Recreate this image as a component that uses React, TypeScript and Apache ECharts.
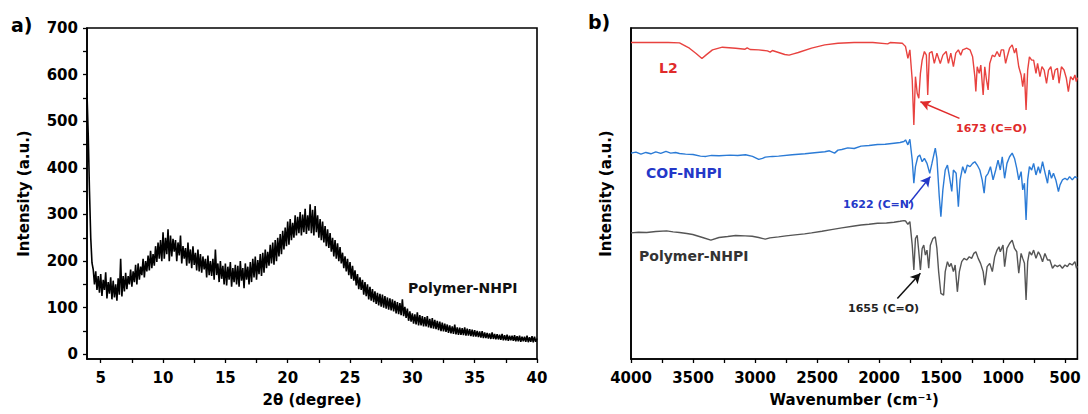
import React, { useEffect, useRef } from "react";
import * as echarts from "echarts";

// ---------- Panel a: XRD (2θ from 3.9 to 40.0, step 0.1) ----------
const xrdStart = 3.9;
const xrdStep = 0.1;
const xrdValues: number[] = [
  560,
  470, 350, 250, 196, 182, 150, 178, 138, 168, 132,
  172, 125, 160, 138, 176, 120, 155, 130, 165, 118,
  158, 122, 150, 115, 163, 128, 205, 124, 168, 135,
  175, 140, 168, 150, 182, 145, 178, 155, 192, 150,
  195, 160, 188, 170, 205, 165, 200, 178, 212, 180,
  222, 185, 215, 190, 232, 198, 240, 205, 245, 200,
  262, 205, 250, 215, 268, 200, 255, 210, 248, 220,
  245, 200, 240, 212, 255, 195, 232, 205, 228, 190,
  240, 195, 225, 185, 232, 192, 218, 180, 225, 178,
  215, 175, 210, 182, 205, 165, 212, 170, 200, 168,
  205, 160, 225, 170, 195, 155, 200, 162, 190, 150,
  195, 148, 188, 160, 198, 145, 185, 155, 192, 150,
  190, 145, 200, 158, 185, 142, 195, 160, 188, 150,
  198, 155, 205, 165, 210, 160, 202, 172, 215, 168,
  218, 175, 225, 185, 220, 190, 235, 195, 240, 192,
  245, 200, 250, 210, 258, 215, 265, 225, 272, 232,
  285, 235, 290, 245, 282, 250, 298, 255, 295, 260,
  305, 255, 300, 262, 312, 258, 298, 265, 322, 260,
  310, 255, 318, 262, 298, 250, 290, 245, 285, 240,
  275, 232, 268, 228, 260, 220, 250, 210, 245, 205,
  238, 200, 230, 195, 218, 185, 210, 178, 205, 170,
  198, 162, 190, 158, 180, 148, 172, 140, 165, 138,
  160, 128, 155, 125, 150, 118, 145, 115, 140, 112,
  135, 108, 132, 105, 130, 102, 128, 100, 125, 98,
  122, 96, 120, 94, 118, 92, 115, 88, 112, 86,
  110, 84, 118, 82, 102, 78, 98, 72, 92, 70,
  88, 66, 86, 64, 90, 62, 84, 62, 82, 60,
  80, 60, 82, 58, 76, 56, 78, 55, 74, 54,
  72, 52, 70, 50, 68, 49, 66, 48, 64, 46,
  62, 45, 60, 44, 64, 43, 58, 42, 57, 42,
  56, 41, 58, 40, 55, 40, 54, 39, 53, 38,
  52, 38, 50, 37, 49, 36, 50, 35, 47, 35,
  46, 34, 45, 33, 47, 33, 44, 32, 43, 32,
  42, 31, 44, 30, 41, 30, 42, 29, 40, 30,
  40, 29, 41, 28, 39, 28, 40, 27, 38, 28,
  38, 27, 40, 26, 37, 27, 39, 26, 38, 27,
  34,
];
const xrdXTicks = [5, 7.5, 10, 12.5, 15, 17.5, 20, 22.5, 25, 27.5, 30, 32.5, 35, 37.5, 40];
const xrdXLabels = [5, 10, 15, 20, 25, 30, 35, 40];
const xrdYTicks = [0, 50, 100, 150, 200, 250, 300, 350, 400, 450, 500, 550, 600, 650, 700];
const xrdYLabels = [0, 100, 200, 300, 400, 500, 600, 700];

// ---------- Panel b: FTIR (wavenumber, arbitrary intensity) ----------
const l2Points: [number, number][] = [
  [4000, 95.6], [3850, 95.6], [3700, 95.6], [3609, 95.5], [3529, 93.9], [3475, 92.3], [3428, 90.8],
  [3396, 91.8], [3343, 93.4], [3263, 94.2], [3156, 93.9], [3080, 93.6], [3063, 94.0], [3040, 93.5],
  [2970, 93.4], [2900, 93.1], [2877, 92.7], [2860, 93.2], [2810, 92.6], [2760, 92.0], [2725, 91.8],
  [2690, 92.2], [2651, 92.6], [2544, 93.9], [2437, 94.9], [2331, 95.4], [2200, 95.6], [2050, 95.6],
  [1930, 95.2], [1910, 95.6], [1812, 95.4], [1799, 94.9], [1786, 94.4], [1767, 90.8], [1751, 93.4],
  [1732, 84.3], [1719, 70.7], [1706, 85.3], [1692, 80.3], [1679, 78.8], [1666, 86.3], [1652, 90.3],
  [1634, 92.9], [1618, 91.8], [1607, 79.8], [1594, 92.4], [1573, 92.9], [1554, 89.3], [1533, 92.4],
  [1506, 89.3], [1485, 91.8], [1458, 92.9], [1440, 89.3], [1421, 92.4], [1400, 88.3], [1381, 92.4],
  [1360, 93.4], [1341, 91.8], [1325, 93.4], [1293, 93.9], [1266, 93.4], [1245, 91.3], [1227, 85.3],
  [1219, 80.8], [1208, 88.3], [1192, 86.3], [1179, 88.8], [1160, 79.8], [1147, 88.3], [1133, 84.3],
  [1120, 81.3], [1107, 89.3], [1086, 91.8], [1067, 91.3], [1048, 92.9], [1027, 91.3], [1014, 93.4],
  [995, 93.4], [979, 89.3], [966, 91.3], [947, 93.9], [926, 94.9], [907, 92.4], [894, 93.9],
  [873, 88.3], [854, 85.8], [841, 82.3], [827, 86.3], [814, 75.2], [801, 87.3], [787, 91.3],
  [769, 90.3], [753, 90.3], [734, 86.3], [721, 89.3], [702, 85.3], [686, 88.3], [668, 87.3],
  [649, 83.3], [633, 87.3], [614, 88.3], [596, 84.3], [580, 87.3], [561, 87.8], [548, 83.3],
  [529, 88.3], [508, 87.3], [489, 84.8], [473, 80.8], [455, 85.3], [436, 84.3], [420, 85.8],
  [409, 83.8], [400, 85.0],
];
const cofPoints: [number, number][] = [
  [4000, 62.2], [3960, 62.5], [3920, 61.9], [3880, 62.4], [3840, 62.0], [3800, 62.6], [3760, 62.1],
  [3718, 62.7], [3680, 62.2], [3640, 62.4], [3609, 62.1], [3560, 61.9], [3500, 61.8], [3440, 61.3],
  [3396, 61.2], [3350, 61.5], [3290, 61.4], [3200, 61.6], [3140, 61.5], [3076, 61.7], [3020, 61.2],
  [2970, 60.3], [2940, 60.6], [2917, 61.0], [2860, 61.2], [2810, 61.3], [2700, 61.7], [2597, 62.0],
  [2520, 62.3], [2437, 62.6], [2400, 62.9], [2358, 62.2], [2331, 63.1], [2300, 63.3], [2252, 63.8],
  [2200, 63.6], [2145, 64.3], [2080, 64.5], [2012, 64.8], [1950, 64.9], [1879, 65.2], [1830, 65.4],
  [1799, 65.7], [1786, 66.2], [1767, 64.7], [1751, 66.4], [1732, 60.1], [1719, 53.1], [1706, 58.1],
  [1687, 61.1], [1671, 61.6], [1652, 59.6], [1634, 60.6], [1613, 59.1], [1591, 56.1], [1573, 59.1],
  [1546, 63.7], [1533, 60.6], [1514, 49.1], [1501, 43.0], [1485, 51.1], [1466, 57.1], [1448, 58.6],
  [1432, 55.1], [1413, 50.6], [1400, 57.1], [1378, 56.1], [1360, 46.0], [1346, 54.1], [1325, 58.1],
  [1306, 56.1], [1288, 58.6], [1266, 58.1], [1245, 59.1], [1227, 59.6], [1208, 58.6], [1187, 57.1],
  [1168, 54.1], [1152, 50.1], [1139, 55.1], [1120, 56.1], [1101, 58.1], [1080, 54.1], [1059, 57.1],
  [1040, 60.1], [1022, 57.1], [1006, 61.1], [987, 54.6], [968, 59.1], [947, 61.1], [926, 62.2],
  [907, 60.6], [889, 57.6], [873, 54.1], [854, 56.6], [841, 51.1], [827, 53.1], [814, 42.0],
  [801, 54.1], [787, 58.1], [769, 57.1], [753, 59.1], [734, 55.6], [715, 58.1], [700, 56.1],
  [681, 59.6], [660, 56.1], [641, 53.1], [628, 57.1], [609, 54.6], [593, 56.1], [574, 54.1],
  [553, 50.6], [540, 52.6], [521, 54.1], [500, 54.6], [481, 54.1], [463, 55.1], [441, 54.1],
  [420, 55.1], [401, 54.6],
];
const polyPoints: [number, number][] = [
  [4000, 38.1], [3940, 38.3], [3873, 38.2], [3800, 38.5], [3713, 38.7], [3660, 38.4], [3609, 38.2],
  [3550, 37.9], [3502, 37.6], [3423, 36.7], [3356, 35.9], [3290, 36.7], [3220, 37.0], [3156, 37.3],
  [3080, 37.2], [3023, 37.1], [2970, 36.7], [2917, 36.2], [2880, 36.6], [2810, 36.9], [2750, 37.2],
  [2677, 37.5], [2600, 37.8], [2544, 38.1], [2460, 38.6], [2384, 39.1], [2300, 39.6], [2200, 40.2],
  [2145, 40.5], [2080, 40.7], [2012, 41.0], [1940, 41.1], [1879, 41.3], [1830, 41.6], [1799, 41.8],
  [1786, 41.7], [1767, 40.7], [1751, 41.5], [1732, 34.4], [1719, 26.9], [1706, 36.4], [1692, 37.4],
  [1679, 32.4], [1666, 26.9], [1652, 33.4], [1639, 34.4], [1626, 31.4], [1613, 32.9], [1599, 27.4],
  [1586, 34.4], [1565, 36.4], [1546, 36.9], [1533, 33.4], [1519, 26.4], [1501, 19.8], [1479, 19.3],
  [1466, 26.4], [1448, 29.4], [1432, 27.9], [1418, 28.9], [1400, 26.4], [1386, 28.4], [1368, 20.3],
  [1352, 26.4], [1333, 29.4], [1314, 30.4], [1293, 29.9], [1272, 30.9], [1253, 30.4], [1235, 31.9],
  [1219, 32.4], [1200, 30.4], [1181, 28.9], [1160, 26.4], [1147, 22.3], [1128, 27.9], [1107, 28.9],
  [1086, 26.4], [1067, 30.9], [1048, 32.9], [1032, 33.9], [1022, 32.4], [1000, 34.4], [987, 27.9],
  [968, 33.4], [947, 34.9], [926, 35.9], [907, 33.4], [889, 32.4], [873, 25.9], [854, 31.9],
  [841, 30.4], [827, 28.9], [814, 17.8], [801, 29.4], [787, 32.4], [769, 31.4], [753, 32.9],
  [734, 30.4], [715, 32.4], [700, 31.4], [681, 29.4], [662, 31.9], [641, 29.9], [622, 29.9],
  [601, 27.4], [582, 28.4], [561, 27.9], [542, 28.4], [521, 27.4], [500, 28.4], [481, 27.9],
  [463, 28.9], [441, 28.4], [420, 29.4], [407, 27.4], [400, 28.0],
];
const ftirXTicks = [500, 750, 1000, 1250, 1500, 1750, 2000, 2250, 2500, 2750, 3000, 3250, 3500, 3750, 4000];
const ftirXLabels = [500, 1000, 1500, 2000, 2500, 3000, 3500, 4000];

// arrows: [tail, tip] in data coordinates
const arrowL2: [number, number][] = [[1351, 72.7], [1666, 77.7]];
const arrowCof: [number, number][] = [[1759, 47.0], [1586, 55.1]];
const arrowPoly: [number, number][] = [[1852, 18.3], [1666, 25.9]];

const FONT = "DejaVu Sans";
const RED = "#e8423f";
const RED_TXT = "#e02b2b";
const BLUE = "#2b7bd6";
const BLUE_TXT = "#2438c8";
const GRAY = "#555555";

export default function App() {
  const ref = useRef<HTMLDivElement>(null);
  useEffect(() => {
    document.body.style.margin = "0";
    const chart = echarts.init(ref.current!, null, { renderer: "svg" });
    const xrdData = xrdValues.map((v, i) => [Number((xrdStart + i * xrdStep).toFixed(2)), v]);

    const axisLine = { show: true, onZero: false, lineStyle: { color: "#000", width: 1.6 } };
    const labelStyle = {
      color: "#000",
      fontFamily: FONT,
      fontWeight: "bold" as const,
      fontSize: 15,
      formatter: (v: number) => String(v),
    };
    const nameStyle = { color: "#000", fontFamily: FONT, fontWeight: "bold" as const, fontSize: 15 };

    const arrowLine = (pts: [number, number][], color: string) => ({
      silent: true,
      symbol: ["none", "arrow"],
      symbolSize: [8, 10],
      label: { show: false },
      lineStyle: { color, width: 1.5, type: "solid" },
      data: [[{ coord: pts[0] }, { coord: pts[1] }]],
    });

    const txt = (text: string, x: number, y: number, size: number, fill: string) => ({
      type: "text",
      x,
      y,
      style: {
        text,
        fill,
        font: `bold ${size}px "${FONT}"`,
        verticalAlign: "middle",
        align: "left",
      },
    });

    chart.setOption({
      animation: false,
      backgroundColor: "#fff",
      grid: [
        { left: 87, top: 28, width: 450, height: 331, show: true, borderColor: "#000", borderWidth: 1.6 },
        { left: 631, top: 28, width: 451, height: 331, show: true, borderColor: "#000", borderWidth: 1.6 },
      ],
      xAxis: [
        {
          gridIndex: 0,
          type: "value",
          min: 3.9,
          max: 40,
          axisLine,
          axisTick: { show: true, length: 4, customValues: xrdXTicks, lineStyle: { color: "#000", width: 1.3 } },
          axisLabel: { ...labelStyle, margin: 11, customValues: xrdXLabels },
          splitLine: { show: false },
          name: "2θ (degree)",
          nameLocation: "middle",
          nameGap: 33,
          nameTextStyle: nameStyle,
        },
        {
          gridIndex: 1,
          type: "value",
          min: 400,
          max: 4000,
          inverse: true,
          axisLine,
          axisTick: { show: true, length: 4, customValues: ftirXTicks, lineStyle: { color: "#000", width: 1.3 } },
          axisLabel: { ...labelStyle, margin: 11, customValues: ftirXLabels },
          splitLine: { show: false },
          name: "Wavenumber (cm⁻¹)",
          nameLocation: "middle",
          nameGap: 33,
          nameTextStyle: nameStyle,
        },
      ],
      yAxis: [
        {
          gridIndex: 0,
          type: "value",
          min: -10,
          max: 700,
          axisLine,
          axisTick: { show: true, length: 4, customValues: xrdYTicks, lineStyle: { color: "#000", width: 1.3 } },
          axisLabel: { ...labelStyle, margin: 9, customValues: xrdYLabels },
          splitLine: { show: false },
          name: "Intensity (a.u.)",
          nameLocation: "middle",
          nameGap: 56,
          nameTextStyle: nameStyle,
        },
        {
          gridIndex: 1,
          type: "value",
          min: 0,
          max: 100,
          axisLine,
          axisTick: { show: false },
          axisLabel: { show: false },
          splitLine: { show: false },
          name: "Intensity (a.u.)",
          nameLocation: "middle",
          nameGap: 18,
          nameTextStyle: nameStyle,
        },
      ],
      series: [
        {
          type: "line",
          xAxisIndex: 0,
          yAxisIndex: 0,
          data: xrdData,
          showSymbol: false,
          lineStyle: { color: "#000", width: 1.6 },
        },
        {
          type: "line",
          name: "L2",
          xAxisIndex: 1,
          yAxisIndex: 1,
          data: l2Points,
          showSymbol: false,
          lineStyle: { color: RED, width: 1.4 },
          markLine: arrowLine(arrowL2, RED_TXT),
        },
        {
          type: "line",
          name: "COF-NHPI",
          xAxisIndex: 1,
          yAxisIndex: 1,
          data: cofPoints,
          showSymbol: false,
          lineStyle: { color: BLUE, width: 1.4 },
          markLine: arrowLine(arrowCof, BLUE_TXT),
        },
        {
          type: "line",
          name: "Polymer-NHPI",
          xAxisIndex: 1,
          yAxisIndex: 1,
          data: polyPoints,
          showSymbol: false,
          lineStyle: { color: GRAY, width: 1.4 },
          markLine: arrowLine(arrowPoly, "#111"),
        },
      ],
      graphic: [
        txt("a)", 11, 25, 19, "#000"),
        txt("b)", 588, 22, 19, "#000"),
        txt("Polymer-NHPI", 408, 288, 14, "#111"),
        txt("L2", 659, 68, 14, RED_TXT),
        txt("COF-NHPI", 646, 173, 14, BLUE_TXT),
        txt("Polymer-NHPI", 639, 256, 14, "#333"),
        txt("1673 (C=O)", 956, 128, 11, RED_TXT),
        txt("1622 (C=N)", 843, 204, 11, BLUE_TXT),
        txt("1655 (C=O)", 848, 308, 11, "#222"),
      ],
    });
    return () => chart.dispose();
  }, []);
  return <div ref={ref} style={{ width: 1088, height: 414 }} />;
}
